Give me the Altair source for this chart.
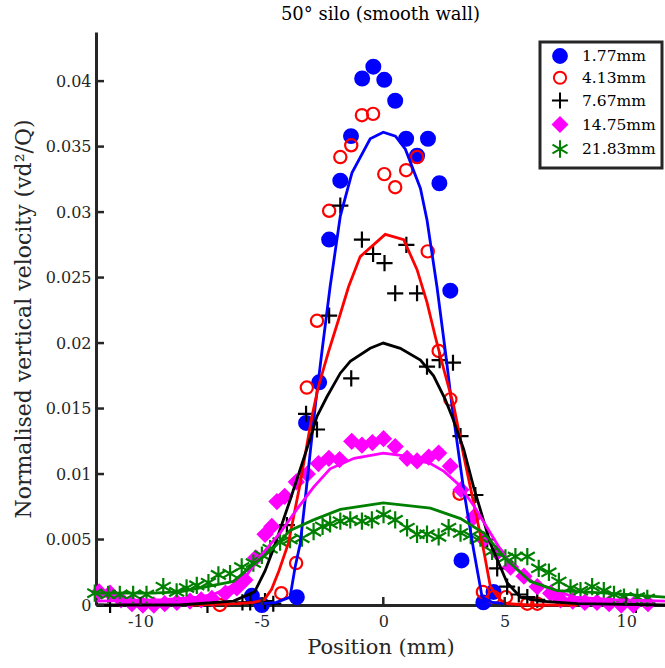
import altair as alt
import pandas as pd

# ---------------- data ----------------
series_names = ["1.77mm", "4.13mm", "7.67mm", "14.75mm", "21.83mm"]

# measured points
blue_x = [-5.41, -5.0, -3.56, -3.18, -2.64, -2.23, -1.77, -1.33, -0.87, -0.41, 0.04, 0.49, 0.94, 1.39, 1.84, 2.31, 2.76, 3.22, 4.12, 4.54]
blue_y = [0.0007, 0.0, 0.0006, 0.0139, 0.0170, 0.0279, 0.0324, 0.0358, 0.0402, 0.0411, 0.0401, 0.0385, 0.0356, 0.0343, 0.0356, 0.0322, 0.0240, 0.0034, 0.0002, 0.0010]

red_x = [-6.73, -4.2, -3.59, -3.15, -2.73, -2.23, -1.77, -1.32, -0.88, -0.42, 0.04, 0.49, 0.94, 1.39, 1.83, 2.28, 2.76, 3.14, 4.10, 4.55, 5.05, 5.93, 6.34]
red_y = [0.0, 0.0009, 0.0032, 0.0166, 0.0217, 0.0301, 0.0342, 0.0351, 0.0374, 0.0375, 0.0329, 0.0319, 0.0332, 0.0342, 0.0270, 0.0194, 0.0157, 0.0085, 0.0010, 0.0006, 0.0006, 0.0001, 0.0001]

black_x = [-11.25, -7.24, -5.8, -5.48, -4.87, -4.53, -3.97, -3.18, -2.73, -2.23, -1.77, -1.32, -0.88, -0.42, 0.05, 0.49, 0.95, 1.39, 1.80, 2.32, 2.87, 3.18, 3.79, 4.28, 4.69, 5.10, 5.58, 5.93, 6.34, 10.4]
black_y = [0.0, 0.0, 0.0002, 0.0002, 0.0003, 0.0001, 0.0061, 0.0146, 0.0134, 0.0221, 0.0305, 0.0173, 0.0279, 0.0268, 0.0261, 0.0238, 0.0275, 0.0238, 0.0182, 0.0187, 0.0185, 0.0129, 0.0084, 0.0050, 0.0028, 0.0014, 0.0008, 0.0006, 0.0004, 0.0]

mag_x = [-11.7, -11.25, -10.8, -10.35, -9.9, -9.45, -9.0, -8.5, -7.96, -7.5, -7.06, -6.5, -6.03, -5.7, -5.25, -4.87, -4.59, -4.38, -4.06, -3.58, -3.13, -2.67, -2.24, -1.8, -1.3, -0.88, -0.45, 0.01, 0.49, 0.98, 1.39, 1.87, 2.28, 2.76, 3.2, 3.72, 4.14, 4.69, 5.24, 5.79, 6.34, 6.89, 7.3, 7.8, 8.3, 8.8, 9.3, 9.8, 10.3, 10.9]
mag_y = [0.0010, 0.0009, 0.0004, 0.0001, 0.0, 0.0, 0.0001, 0.0002, 0.0003, 0.0004, 0.0005, 0.0009, 0.0013, 0.0019, 0.0036, 0.0054, 0.0060, 0.0079, 0.0083, 0.0094, 0.0100, 0.0108, 0.0112, 0.0111, 0.0125, 0.0122, 0.0124, 0.0127, 0.0121, 0.0112, 0.0110, 0.0113, 0.0116, 0.0106, 0.0088, 0.0067, 0.0050, 0.0040, 0.0029, 0.0022, 0.0014, 0.0009, 0.0004, 0.0003, 0.0002, 0.0002, 0.0001, 0.0, 0.0, 0.0001]

green_x = [-11.88, -11.33, -10.85, -10.3, -9.75, -9.06, -8.51, -8.1, -7.68, -7.2, -6.79, -6.31, -5.83, -5.35, -5.0, -4.66, -4.25, -3.84, -3.35, -2.87, -2.5, -2.19, -1.77, -1.36, -0.88, -0.47, 0.01, 0.49, 0.98, 1.39, 1.80, 2.28, 2.69, 3.18, 3.6, 4.0, 4.48, 5.03, 5.44, 5.93, 6.4, 6.82, 7.23, 7.71, 8.12, 8.6, 9.08, 9.5, 9.91, 10.46, 10.87]
green_y = [0.0009, 0.0008, 0.0008, 0.0008, 0.0008, 0.0014, 0.0010, 0.0013, 0.0015, 0.0017, 0.0023, 0.0024, 0.0029, 0.0032, 0.0038, 0.0043, 0.0048, 0.0050, 0.0051, 0.0056, 0.0060, 0.0062, 0.0064, 0.0065, 0.0064, 0.0065, 0.0069, 0.0065, 0.0059, 0.0054, 0.0054, 0.0052, 0.0059, 0.0055, 0.0053, 0.0051, 0.0041, 0.0036, 0.0037, 0.0037, 0.0028, 0.0025, 0.0018, 0.0013, 0.0011, 0.0014, 0.0011, 0.0008, 0.0006, 0.0006, 0.0005]

# fitted curves
blue_lx = [-5.0, -4.4, -3.84, -3.63, -3.42, -3.22, -3.0, -2.80, -2.53, -2.19, -1.77, -1.29, -0.54, 0.0, 0.5, 0.91, 1.53, 1.80, 2.21, 2.56, 2.83, 3.31, 3.72, 4.07, 4.5, 5.1]
blue_ly = [0.0001, 0.0002, 0.0006, 0.0029, 0.0047, 0.0080, 0.0118, 0.0152, 0.0193, 0.0243, 0.0297, 0.0330, 0.0356, 0.0361, 0.0358, 0.0348, 0.0318, 0.0294, 0.0243, 0.0193, 0.0152, 0.0088, 0.0042, 0.0006, 0.0002, 0.0001]

red_lx = [-8.0, -6.0, -5.35, -4.9, -4.6, -4.3, -3.91, -3.42, -2.94, -2.67, -2.26, -1.84, -1.43, -0.95, 0.08, 0.84, 1.39, 1.80, 2.14, 2.49, 2.90, 3.30, 3.72, 4.14, 4.41, 4.8, 5.1, 6.0, 8.0]
red_ly = [0.0, 0.0001, 0.0002, 0.0004, 0.0012, 0.0026, 0.0047, 0.0093, 0.0144, 0.0167, 0.0193, 0.0218, 0.0243, 0.0266, 0.0283, 0.0279, 0.0256, 0.0231, 0.0205, 0.0180, 0.0152, 0.0115, 0.0078, 0.0041, 0.0014, 0.0004, 0.0001, 0.0, 0.0]

black_lx = [-11.8, -8.4, -6.17, -5.3, -4.87, -4.52, -3.84, -3.15, -2.73, -2.32, -1.77, -1.36, -0.54, 0.0, 0.70, 1.53, 2.07, 2.55, 2.83, 3.31, 3.72, 4.41, 5.1, 5.65, 6.47, 8.0, 11.6]
black_ly = [0.0, 0.0, 0.0003, 0.0010, 0.0026, 0.0043, 0.0080, 0.0119, 0.0144, 0.0159, 0.0177, 0.0186, 0.0196, 0.0200, 0.0196, 0.0187, 0.0175, 0.0157, 0.0144, 0.0119, 0.0090, 0.0047, 0.0017, 0.0006, 0.0003, 0.0001, 0.0]

mag_lx = [-11.8, -9.0, -7.68, -7.0, -6.31, -5.62, -4.94, -4.25, -3.56, -2.87, -2.19, -1.2, 0.0, 0.8, 1.94, 2.5, 3.1, 3.72, 4.41, 5.1, 6.2, 7.85, 9.5, 11.6]
mag_ly = [0.0003, 0.0004, 0.0006, 0.0008, 0.0014, 0.0023, 0.0040, 0.0055, 0.0073, 0.0090, 0.0104, 0.0112, 0.0116, 0.0114, 0.0108, 0.0102, 0.0092, 0.0076, 0.0055, 0.0034, 0.0017, 0.0006, 0.0004, 0.0003]

green_lx = [-11.8, -9.5, -8.37, -7.27, -6.17, -5.35, -4.6, -3.84, -2.87, -1.77, 0.0, 1.94, 3.18, 4.14, 5.1, 6.06, 7.16, 9.22, 11.6]
green_ly = [0.0009, 0.0009, 0.0010, 0.0014, 0.0018, 0.0031, 0.0042, 0.0057, 0.0065, 0.0073, 0.0078, 0.0074, 0.0066, 0.0055, 0.0034, 0.0018, 0.0011, 0.0009, 0.0006]

x_ticks = [-10, -5, 0, 5, 10]
y_ticks = [0, 0.005, 0.01, 0.015, 0.02, 0.025, 0.03, 0.035, 0.04]

# ---------------- styles ----------------
colors = ["#0000ff", "#ff0000", "#000000", "#ff00ff", "#008000"]
fills = ["#0000ff", "transparent", "transparent", "#ff00ff", "transparent"]
plus_path = "M-1,0H1M0,-1V1"
star_path = "M0,-1V1M-0.866,-0.5L0.866,0.5M-0.866,0.5L0.866,-0.5"
shapes = ["circle", "circle", plus_path, "diamond", star_path]
sizes = [190, 150, 260, 200, 300]

pts_sets = [(blue_x, blue_y), (red_x, red_y), (black_x, black_y), (mag_x, mag_y), (green_x, green_y)]
line_sets = [(blue_lx, blue_ly), (red_lx, red_ly), (black_lx, black_ly), (mag_lx, mag_ly), (green_lx, green_ly)]

rows = []
for name, (xs_, ys_) in zip(series_names, pts_sets):
    for xv, yv in zip(xs_, ys_):
        rows.append({"series": name, "x": xv, "y": yv})
pts = pd.DataFrame(rows)

lrows = []
for name, (xs_, ys_) in zip(series_names, line_sets):
    for j, (xv, yv) in enumerate(zip(xs_, ys_)):
        lrows.append({"series": name, "x": xv, "y": yv, "o": j})
lines = pd.DataFrame(lrows)

W, H = 569, 573
XDOM = [-11.83, 11.6]
YDOM = [0, 0.04375]
FONT = "DejaVu Serif"
AX = "#262626"

xs = alt.Scale(domain=XDOM, nice=False, zero=False)
ys = alt.Scale(domain=YDOM, nice=False, zero=False)

XT = "Position (mm)"
YT = "Normalised vertical velocity (vd²/Q)"
x_axis = alt.Axis(title=XT, values=x_ticks, labelExpr="'' + datum.value")
y_axis = alt.Axis(title=YT, values=y_ticks, labelExpr="'' + datum.value")

points = alt.Chart(pts).mark_point(strokeWidth=2.2, opacity=1).encode(
    x=alt.X("x:Q", scale=xs, axis=x_axis),
    y=alt.Y("y:Q", scale=ys, axis=y_axis),
    stroke=alt.Stroke("series:N", scale=alt.Scale(domain=series_names, range=colors),
                      legend=alt.Legend(title=None)),
    fill=alt.Fill("series:N", scale=alt.Scale(domain=series_names, range=fills),
                  legend=alt.Legend(title=None)),
    shape=alt.Shape("series:N", scale=alt.Scale(domain=series_names, range=shapes),
                    legend=alt.Legend(title=None)),
    size=alt.Size("series:N", scale=alt.Scale(type="ordinal", domain=series_names, range=sizes),
                  legend=alt.Legend(title=None)),
)

curves = alt.Chart(lines).mark_line(strokeWidth=2.8).encode(
    x=alt.X("x:Q", scale=xs, axis=x_axis),
    y=alt.Y("y:Q", scale=ys, axis=y_axis),
    color=alt.Color("series:N", scale=alt.Scale(domain=series_names, range=colors), legend=None),
    order="o:Q",
)

xt = alt.Chart(pd.DataFrame({"t": x_ticks})).mark_rule(color=AX, strokeWidth=2.5).encode(
    x=alt.X("t:Q", scale=xs, axis=x_axis), y=alt.value(H), y2=alt.value(H - 8))
yt = alt.Chart(pd.DataFrame({"t": y_ticks})).mark_rule(color=AX, strokeWidth=2.5).encode(
    y=alt.Y("t:Q", scale=ys, axis=y_axis), x=alt.value(0), x2=alt.value(8))

chart = alt.layer(points, curves, xt, yt).properties(
    width=W, height=H,
    title=alt.Title("50° silo (smooth wall)"),
    autosize=alt.AutoSizeParams(type="none"),
    padding={"left": 96, "top": 32, "right": 0, "bottom": 63},
).configure_view(stroke=None).configure_axis(
    ticks=False, grid=False, domainColor=AX, domainWidth=3,
    labelFont=FONT, labelFontSize=16, labelColor=AX,
    titleFont=FONT, titleFontSize=21, titleFontWeight="normal", titleColor=AX,
    zindex=2,
).configure_axisX(labelPadding=8, titlePadding=7).configure_axisY(
    labelPadding=5, titlePadding=10, titleFontSize=22,
).configure_title(
    font=FONT, fontSize=18, fontWeight="normal", color="black", anchor="middle", offset=8,
).configure_legend(
    orient="none", legendX=444, legendY=10, padding=6,
    strokeColor=AX, strokeWidth=3, fillColor="white",
    labelFont=FONT, labelFontSize=15.5, labelColor="black",
    symbolStrokeWidth=2, rowPadding=0, labelOffset=12, symbolOffset=4,
)

chart.save("out.html", embed_options={"renderer": "svg", "actions": False})
